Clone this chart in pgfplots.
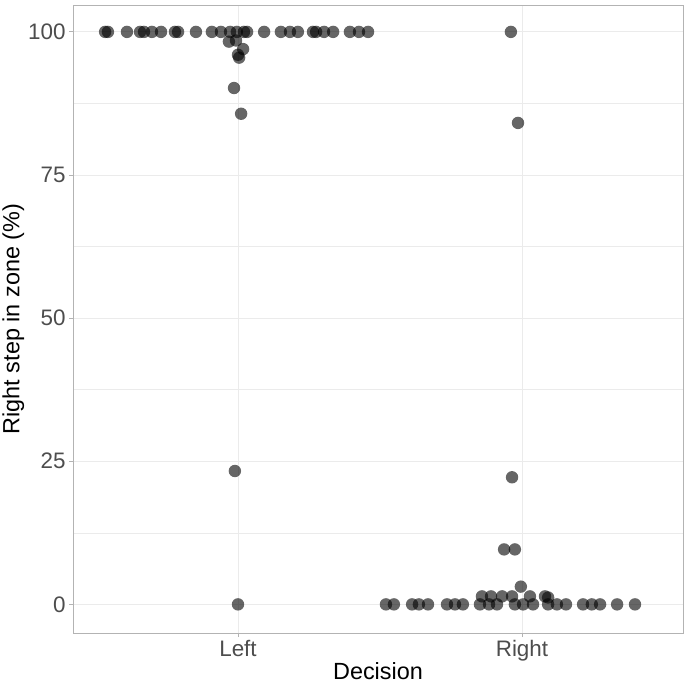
\documentclass[border=0pt]{standalone}
\usepackage{pgfplots}
\pgfplotsset{compat=1.18}
\usepackage{fontspec}
\setmainfont{Liberation Sans}
\definecolor{gridc}{RGB}{235,235,235}
\definecolor{borderc}{RGB}{179,179,179}
\definecolor{tickc}{RGB}{77,77,77}
\begin{document}
\begin{tikzpicture}
\path[use as bounding box] (-73bp,-52bp) rectangle (612bp,633bp);
\begin{axis}[
  at={(0,0)}, anchor=south west,
  scale only axis, width=610bp, height=628bp,
  xmin=0.419, xmax=2.567, ymin=-5, ymax=104.7,
  xtick={1,2}, xticklabels={Left,Right},
  ytick={0,25,50,75,100},
  minor ytick={12.5,37.5,62.5,87.5},
  grid=both,
  major grid style={draw=gridc, line width=0.8bp},
  minor grid style={draw=gridc, line width=0.5bp},
  axis line style={draw=borderc, line width=0.9bp},
  tick style={draw=borderc, line width=0.9bp},
  tick align=outside, tick pos=left,
  major tick length=4bp, minor tick length=0bp,
  /pgf/number format/assume math mode=true,
  ticklabel style={font=\fontsize{22.5}{26}\selectfont, text=tickc},
  label style={font=\fontsize{23.5}{28}\selectfont, text=black},
  xlabel={Decision}, ylabel={Right step in zone (\%)},
  xlabel style={yshift=6bp},
  ylabel style={yshift=-3bp},
]
\addplot[only marks, mark=*, mark size=6.2bp,
  mark options={draw opacity=0, fill=black, fill opacity=0.6}]
coordinates {
(0.532,100) (0.542,100) (0.609,100) (0.655,100) (0.669,100) (0.697,100)
(0.729,100) (0.778,100) (0.789,100) (0.852,100) (0.908,100) (0.940,100)
(0.972,100) (0.996,100) (1.021,100) (1.032,100) (1.092,100) (1.151,100)
(1.183,100) (1.211,100) (1.264,100) (1.275,100) (1.303,100) (1.335,100)
(1.394,100) (1.426,100) (1.458,100)
(0.968,98.3) (0.993,98.5) (1.018,97.0) (1.000,96.0) (1.004,95.5)
(0.986,90.2) (1.011,85.7) (0.989,23.3) (1.000,0)
(1.521,0) (1.549,0) (1.613,0) (1.637,0) (1.669,0) (1.736,0) (1.764,0)
(1.792,0) (1.852,0) (1.884,0) (1.912,0) (1.975,0) (2.004,0) (2.039,0)
(2.092,0) (2.123,0) (2.155,0) (2.215,0) (2.246,0) (2.275,0) (2.335,0)
(2.398,0)
(1.859,1.4) (1.891,1.4) (1.930,1.4) (1.965,1.4) (2.028,1.4) (2.081,1.4) (2.092,1.2)
(1.996,3.1) (1.937,9.6) (1.975,9.6) (1.965,22.2) (1.986,84.1) (1.961,100)
};
\end{axis}
\end{tikzpicture}
\end{document}
